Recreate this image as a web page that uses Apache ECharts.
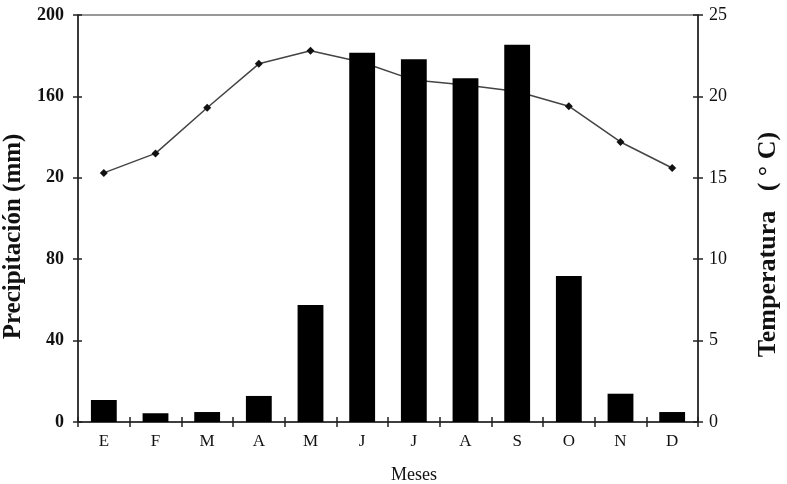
<!DOCTYPE html>
<html><head><meta charset="utf-8">
<script src="https://cdn.jsdelivr.net/npm/echarts@6/dist/echarts.min.js"></script>
<style>html,body{margin:0;padding:0;background:#fff}#c{width:787px;height:484px}</style>
</head><body><div id="c"></div>
<script>
const categories = ['E','F','M','A','M','J','J','A','S','O','N','D'];
const precip = [10.8, 4.3, 4.9, 12.8, 57.5, 181.5, 178.2, 168.9, 185.4, 71.7, 13.9, 4.9];
const temp = [15.3, 16.5, 19.3, 22.0, 22.8, 22.1, 21.0, 20.7, 20.3, 19.4, 17.2, 15.6];
const leftTickLabels = {0:'0', 40:'40', 80:'80', 120:'20', 160:'160', 200:'200'};
const rightTicks = [0,5,10,15,20,25];

const serif = 'Liberation Serif';
const chart = echarts.init(document.getElementById('c'));
const axisLine = {show:true, lineStyle:{color:'#222', width:1.5}};
const tickStyle = {color:'#222', width:1.5};
chart.setOption({
  animation:false,
  grid:{left:78, right:89, top:15, bottom:62, outerBoundsMode:'none', containLabel:false,
        show:true, borderColor:'#333', borderWidth:1.2},
  xAxis:[{
    type:'category', data:categories, position:'bottom',
    axisLine:axisLine,
    axisTick:{show:true, alignWithLabel:false, length:5, lineStyle:tickStyle},
    axisLabel:{fontFamily:serif, fontSize:17, color:'#111', margin:11},
    name:'Meses', nameLocation:'middle', nameGap:44,
    nameTextStyle:{fontFamily:serif, fontSize:18, color:'#111', padding:[0,0,0,52]}
  },{
    type:'category', data:categories, position:'bottom',
    axisLine:{show:false},
    axisTick:{show:true, inside:true, length:5, lineStyle:tickStyle},
    axisLabel:{show:false}
  }],
  yAxis:[{
    type:'value', min:0, max:200, interval:40, position:'left',
    axisLine:axisLine,
    axisTick:{show:true, length:5, lineStyle:tickStyle},
    splitLine:{show:false},
    axisLabel:{fontFamily:serif, fontSize:18, fontWeight:'bold', color:'#111', margin:14,
      formatter:v=>leftTickLabels[v]},
    name:'Precipitación (mm)', nameLocation:'middle', nameGap:51,
    nameTextStyle:{fontFamily:serif, fontSize:25, fontWeight:'bold', color:'#111', padding:[0,36,0,0]}
  },{
    type:'value', min:0, max:25, interval:5, position:'right',
    axisLine:axisLine,
    axisTick:{show:true, length:5, lineStyle:tickStyle},
    splitLine:{show:false},
    axisLabel:{fontFamily:serif, fontSize:18, color:'#111', margin:11,
      formatter:v=>rightTicks.includes(v)?String(v):''},
    name:'Temperatura   ( ° C)', nameLocation:'middle', nameGap:57,
    nameTextStyle:{fontFamily:serif, fontSize:26, fontWeight:'bold', color:'#111', padding:[0,52,0,0]}
  },{
    type:'value', min:0, max:25, interval:5, position:'right',
    axisLine:{show:false},
    axisTick:{show:true, inside:true, length:5, lineStyle:tickStyle},
    splitLine:{show:false}, axisLabel:{show:false}
  },{
    type:'value', min:0, max:200, interval:40, position:'left',
    axisLine:{show:false},
    axisTick:{show:true, inside:true, length:4, lineStyle:tickStyle},
    splitLine:{show:false}, axisLabel:{show:false}
  }],
  series:[{
    type:'line', data:temp, yAxisIndex:1, z:1,
    symbol:'diamond', symbolSize:8,
    lineStyle:{color:'#444', width:1.5},
    itemStyle:{color:'#111'}
  },{
    type:'bar', data:precip, yAxisIndex:0, z:3, barWidth:'50%',
    itemStyle:{color:'#000'}
  }]
});
</script></body></html>
